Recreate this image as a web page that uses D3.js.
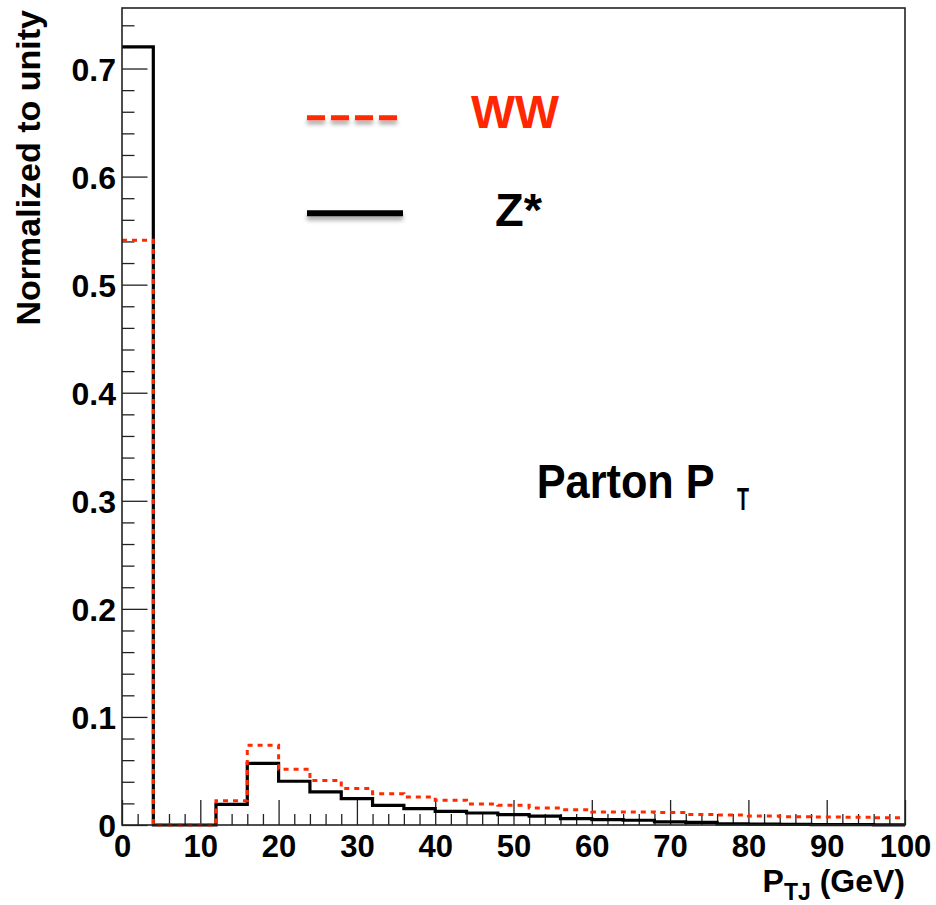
<!DOCTYPE html>
<html>
<head>
<meta charset="utf-8">
<script src="https://cdn.jsdelivr.net/npm/d3@7"></script>
<style>
  html, body { margin: 0; padding: 0; background: #fff; }
  svg { display: block; }
  text { font-family: "Liberation Sans", Arial, Helvetica, sans-serif; font-weight: bold; }
</style>
</head>
<body>
<svg id="chart" width="936" height="905"></svg>
<script>
// ---- Data ----
const binEdges = [0,4,8,12,16,20,24,28,32,36,40,44,48,52,56,60,64,68,72,76,80,84,88,92,96,100];
const zStar = [0.720, 0, 0, 0.0190, 0.0570, 0.0405, 0.0306, 0.0244, 0.0182, 0.0152, 0.0127, 0.0111,
               0.0096, 0.0083, 0.0059, 0.0050, 0.0044, 0.0028, 0.0024, 0.0010, 0.0008, 0.0006, 0.0004, 0.0003, 0.0002];
const ww    = [0.541, 0, 0, 0.0225, 0.0738, 0.0516, 0.0412, 0.0337, 0.0290, 0.0259, 0.0229, 0.0195,
               0.0182, 0.0157, 0.0142, 0.0121, 0.0120, 0.0115, 0.0097, 0.0093, 0.0083, 0.0076, 0.0074, 0.0072, 0.0066];
const xTicks = [0,10,20,30,40,50,60,70,80,90,100];
const xTickLabels = ["0","10","20","30","40","50","60","70","80","90","100"];
const yTicks = [0,0.1,0.2,0.3,0.4,0.5,0.6,0.7];
const yTickLabels = ["0","0.1","0.2","0.3","0.4","0.5","0.6","0.7"];
const seriesNames = ["WW","Z*"];
const seriesColors = ["#ff2a00","#000000"];
const xDomain = [0,100];
const yDomain = [0,0.756];

// ---- Layout ----
const L = 122, R = 905, T = 8, B = 825;
const svg = d3.select("#chart");
const x = d3.scaleLinear().domain(xDomain).range([L, R]);
const y = d3.scaleLinear().domain(yDomain).range([B, T]);

const defs = svg.append("defs");
const f = defs.append("filter").attr("id","shadow").attr("filterUnits","userSpaceOnUse")
  .attr("x",280).attr("y",90).attr("width",160).attr("height",150);
f.append("feDropShadow").attr("dx",0).attr("dy",4).attr("stdDeviation",2).attr("flood-color","#000").attr("flood-opacity",0.35);

// minor ticks
const xMinor = d3.range(0, 100.001, 2).filter(v => v % 10 !== 0);
const yMinor = d3.range(0, 0.7401, 0.02).map(v => +v.toFixed(2)).filter(v => Math.round(v*100) % 10 !== 0);

const gxMinor = svg.append("g").attr("transform", `translate(0,${B})`)
  .call(d3.axisBottom(x).tickValues(xMinor).tickSizeInner(-11).tickSizeOuter(0).tickFormat(""));
const gyMinor = svg.append("g").attr("transform", `translate(${L},0)`)
  .call(d3.axisLeft(y).tickValues(yMinor).tickSizeInner(-12.5).tickSizeOuter(0).tickFormat(""));

const gx = svg.append("g").attr("transform", `translate(0,${B})`)
  .call(d3.axisBottom(x).tickValues(xTicks).tickSizeInner(-25).tickSizeOuter(0).tickPadding(10)
        .tickFormat((d,i) => xTickLabels[i]));
const gy = svg.append("g").attr("transform", `translate(${L},0)`)
  .call(d3.axisLeft(y).tickValues(yTicks).tickSizeInner(-25.5).tickSizeOuter(0).tickPadding(6)
        .tickFormat((d,i) => yTickLabels[i]));

[gxMinor, gyMinor, gx, gy].forEach(g => {
  g.select(".domain").remove();
  g.selectAll(".tick line").attr("stroke", "#222").attr("stroke-width", 1.3);
});
gx.selectAll(".tick text").attr("font-size", 31).attr("fill", "#000");
gy.selectAll(".tick text").attr("font-size", 32).attr("fill", "#000").attr("dy", "0.36em");

// histogram step path
function stepPoints(vals) {
  const pts = [];
  vals.forEach((v, i) => {
    pts.push([x(binEdges[i]), y(v)]);
    pts.push([x(binEdges[i+1]), y(v)]);
  });
  return pts;
}
const line = d3.line();

svg.append("path")
  .attr("d", line(stepPoints(zStar)))
  .attr("fill", "none").attr("stroke", seriesColors[1]).attr("stroke-width", 3.2)
  .attr("stroke-linejoin", "miter");

svg.append("path")
  .attr("d", line(stepPoints(ww)))
  .attr("fill", "none").attr("stroke", seriesColors[0]).attr("stroke-width", 3)
  .attr("stroke-dasharray", "5,5");

// frame
svg.append("rect").attr("x", L).attr("y", T).attr("width", R - L).attr("height", B - T)
  .attr("fill", "none").attr("stroke", "#222").attr("stroke-width", 1.6);

// axis titles
svg.append("text")
  .attr("transform", `translate(40,10) rotate(-90)`)
  .attr("text-anchor", "end").attr("font-size", 34).attr("fill", "#000")
  .text("Normalized to unity");

const xt = svg.append("text").attr("x", R).attr("y", 891.5).attr("text-anchor", "end").attr("fill", "#000");
xt.append("tspan").attr("font-size", 32).text("P");
xt.append("tspan").attr("font-size", 23).attr("dy", 8).text("TJ");
xt.append("tspan").attr("font-size", 32).attr("dy", -8).text(" (GeV)");

// legend
const legend = svg.append("g").attr("filter", "url(#shadow)");
legend.append("path").attr("d", "M307,117.7H397")
  .attr("stroke", seriesColors[0]).attr("stroke-width", 5).attr("stroke-dasharray", "18,6").attr("fill", "none");
legend.append("path").attr("d", "M307,213.3H403")
  .attr("stroke", seriesColors[1]).attr("stroke-width", 6).attr("fill", "none");

svg.append("text").attr("x", 471).attr("y", 128).attr("font-size", 47).attr("fill", "#ff2600")
  .attr("textLength", 88).attr("lengthAdjust", "spacingAndGlyphs").text(seriesNames[0]);
svg.append("text").attr("x", 495).attr("y", 226).attr("font-size", 47).attr("fill", "#000")
  .attr("textLength", 47).attr("lengthAdjust", "spacingAndGlyphs").text(seriesNames[1]);

// annotation
svg.append("text").attr("x", 536.7).attr("y", 498.3).attr("font-size", 48).attr("fill", "#000")
  .attr("textLength", 178).attr("lengthAdjust", "spacingAndGlyphs").text("Parton P");
svg.append("text").attr("x", 737).attr("y", 510).attr("font-size", 32).attr("fill", "#000")
  .attr("textLength", 12).attr("lengthAdjust", "spacingAndGlyphs").text("T");
</script>
</body>
</html>
